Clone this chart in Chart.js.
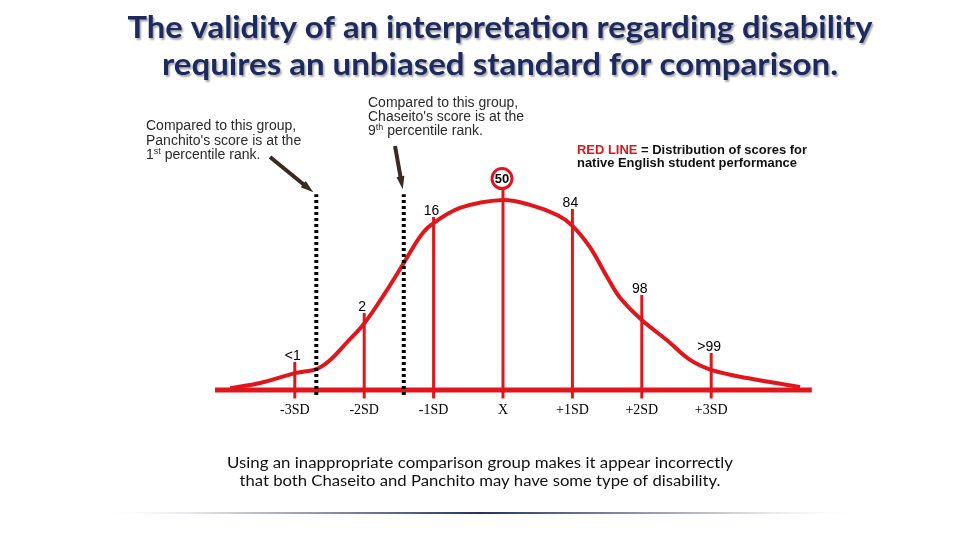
<!DOCTYPE html>
<html>
<head>
<meta charset="utf-8">
<script src="https://cdn.jsdelivr.net/npm/chart.js@4.4.1/dist/chart.umd.min.js"></script>
<style>
  html, body { margin: 0; background: #fff; }
  #wrap { width: 960px; height: 540px; position: relative; }
</style>
</head>
<body>
<div id="wrap"><canvas id="bellChart"></canvas></div>
<script>
// Distribution of native English scores: x in SD units, height with peak = 100
const curveSD = [-3.93, -3.5, -2.98, -2.69, -2.49, -2.25, -2.0, -1.7, -1.43, -1.2, -1.04, -0.62, 0,
                 0.39, 0.78, 0.99, 1.25, 1.5, 1.69, 2.0, 2.36, 2.69, 3.01, 3.52, 4.28];
const curveHeight = [1, 3.7, 9, 11, 15.8, 25, 35, 51, 66.8, 80.5, 86.8, 95.8, 100,
                     97.4, 92.1, 86.8, 75.3, 59.5, 48.4, 36.8, 26.3, 16, 10.5, 6.3, 1.6];

// SD markers and the percentile rank printed on each
const sdTicks = [-3, -2, -1, 0, 1, 2, 3];
const sdLabels = ['-3SD', '-2SD', '-1SD', 'X', '+1SD', '+2SD', '+3SD'];
const percentileLabels = ['<1', '2', '16', '50', '84', '98', '>99'];
const markerTops = [14.7, 40.5, 91, 106, 95.3, 50, 19.5];
const markerBottom = -4.5;

// Panchito and Chaseito scores (dotted lines)
const studentSD = [-2.69, -1.43];
const studentTop = 103;
const studentBottom = -2.6;

// horizontal base line
const baselineSD = [-4.15, 4.45];

const RED = '#e0161c';

function markerPoints() {
    const pts = [];
    sdTicks.forEach((sd, i) => {
        pts.push({ x: sd, y: markerBottom }, { x: sd, y: markerTops[i] }, { x: sd, y: null });
    });
    return pts;
}

function studentPoints() {
    const pts = [];
    studentSD.forEach(sd => {
        pts.push({ x: sd, y: studentBottom }, { x: sd, y: studentTop }, { x: sd, y: null });
    });
    return pts;
}

// draw text squeezed/stretched to a given width
function fitText(ctx, text, cx, y, width, font, color) {
    ctx.save();
    ctx.font = font;
    ctx.fillStyle = color;
    ctx.textAlign = 'center';
    ctx.textBaseline = 'alphabetic';
    const w = ctx.measureText(text).width;
    ctx.translate(cx, y);
    ctx.scale(width / w, 1);
    ctx.fillText(text, 0, 0);
    ctx.restore();
}

// text with a superscript part: parts = [[text, isSup], ...]
function supText(ctx, parts, x, y, size) {
    let cx = x;
    parts.forEach(([t, sup]) => {
        ctx.font = (sup ? Math.round(size * 0.62) : size) + 'px "Liberation Sans", Arial, sans-serif';
        ctx.fillText(t, cx, sup ? y - size * 0.38 : y);
        cx += ctx.measureText(t).width;
    });
}

function arrow(ctx, x1, y1, x2, y2) {
    const ang = Math.atan2(y2 - y1, x2 - x1);
    const head = 13;
    ctx.save();
    ctx.strokeStyle = '#3a2a22';
    ctx.fillStyle = '#3a2a22';
    ctx.lineWidth = 4;
    ctx.beginPath();
    ctx.moveTo(x1, y1);
    ctx.lineTo(x2 - Math.cos(ang) * head * 0.8, y2 - Math.sin(ang) * head * 0.8);
    ctx.stroke();
    ctx.beginPath();
    ctx.moveTo(x2, y2);
    ctx.lineTo(x2 - head * Math.cos(ang) + 4 * Math.sin(ang), y2 - head * Math.sin(ang) - 4 * Math.cos(ang));
    ctx.lineTo(x2 - head * Math.cos(ang) - 4 * Math.sin(ang), y2 - head * Math.sin(ang) + 4 * Math.cos(ang));
    ctx.closePath();
    ctx.fill();
    ctx.restore();
}

const decorations = {
    id: 'decorations',
    beforeDraw(chart) {
        const ctx = chart.ctx;
        ctx.save();
        ctx.fillStyle = '#fff';
        ctx.fillRect(0, 0, chart.width, chart.height);
        ctx.restore();
    },
    afterDraw(chart) {
        const ctx = chart.ctx;
        const xs = chart.scales.x, ys = chart.scales.y;

        // title with soft shadow
        ctx.save();
        ctx.shadowColor = 'rgba(0,0,0,0.35)';
        ctx.shadowOffsetX = 1.5;
        ctx.shadowOffsetY = 1.5;
        ctx.shadowBlur = 2;
        fitText(ctx, 'The validity of an interpretation regarding disability', 500, 38, 745, 'bold 30px Lato, sans-serif', '#1c2a5e');
        fitText(ctx, 'requires an unbiased standard for comparison.', 500, 75, 676, 'bold 30px Lato, sans-serif', '#1c2a5e');
        ctx.restore();

        // annotations
        ctx.save();
        ctx.fillStyle = '#2a2a2a';
        ctx.textAlign = 'left';
        supText(ctx, [['Compared to this group,', false]], 146, 130, 14);
        supText(ctx, [["Panchito's score is at the", false]], 146, 145, 14);
        supText(ctx, [['1', false], ['st', true], [' percentile rank.', false]], 146, 159, 14);
        supText(ctx, [['Compared to this group,', false]], 368, 107, 14);
        supText(ctx, [["Chaseito's score is at the", false]], 368, 121, 14);
        supText(ctx, [['9', false], ['th', true], [' percentile rank.', false]], 368, 135, 14);
        ctx.restore();

        // legend-like note
        ctx.save();
        ctx.font = 'bold 12px "Liberation Sans", Arial, sans-serif';
        ctx.textAlign = 'left';
        const p1 = 'RED LINE', p2 = ' = Distribution of scores for';
        const w1 = ctx.measureText(p1).width, w2 = ctx.measureText(p2).width;
        const k = 230 / (w1 + w2);
        ctx.translate(577, 154);
        ctx.scale(k, 1);
        ctx.fillStyle = RED;
        ctx.fillText(p1, 0, 0);
        ctx.fillStyle = '#111';
        ctx.fillText(p2, w1, 0);
        const p3 = 'native English student performance';
        const w3 = ctx.measureText(p3).width;
        ctx.setTransform(1, 0, 0, 1, 0, 0);
        ctx.translate(577, 167);
        ctx.scale(220 / w3, 1);
        ctx.fillText(p3, 0, 0);
        ctx.restore();

        // arrows pointing at the dotted lines
        const ax1 = xs.getPixelForValue(studentSD[0]);
        const ax2 = xs.getPixelForValue(studentSD[1]);
        const ay = ys.getPixelForValue(studentTop);
        arrow(ctx, 270, 157, ax1 - 3, ay - 2);
        arrow(ctx, 395, 146, ax2 - 1, ay - 5);

        // percentile labels above each SD marker
        ctx.save();
        ctx.textAlign = 'center';
        ctx.textBaseline = 'alphabetic';
        sdTicks.forEach((sd, i) => {
            const px = xs.getPixelForValue(sd);
            const top = ys.getPixelForValue(markerTops[i]);
            if (percentileLabels[i] === '50') {
                ctx.beginPath();
                ctx.arc(px - 1, top - 10, 10, 0, Math.PI * 2);
                ctx.fillStyle = '#fff';
                ctx.fill();
                ctx.lineWidth = 3;
                ctx.strokeStyle = RED;
                ctx.stroke();
                ctx.fillStyle = '#000';
                ctx.font = 'bold 13px "Liberation Sans", Arial, sans-serif';
                ctx.textBaseline = 'middle';
                ctx.fillText('50', px - 1, top - 9.5);
                ctx.textBaseline = 'alphabetic';
            } else {
                ctx.fillStyle = '#000';
                ctx.font = '14px "Liberation Sans", Arial, sans-serif';
                ctx.fillText(percentileLabels[i], px - 2, top - 2);
            }
        });
        // SD labels under the base line
        ctx.font = '14px "Liberation Serif", "Times New Roman", serif';
        ctx.fillStyle = '#000';
        sdTicks.forEach((sd, i) => {
            ctx.fillText(sdLabels[i], xs.getPixelForValue(sd), 414);
        });
        ctx.restore();

        // footer text
        fitText(ctx, 'Using an inappropriate comparison group makes it appear incorrectly', 480, 468, 506, '16px Lato, sans-serif', '#111');
        fitText(ctx, 'that both Chaseito and Panchito may have some type of disability.', 480, 486, 481, '16px Lato, sans-serif', '#111');

        // divider
        ctx.save();
        const g = ctx.createLinearGradient(95, 0, 865, 0);
        g.addColorStop(0, 'rgba(255,255,255,0)');
        g.addColorStop(0.2, 'rgba(190,194,205,1)');
        g.addColorStop(0.5, '#1f3560');
        g.addColorStop(0.8, 'rgba(190,194,205,1)');
        g.addColorStop(1, 'rgba(255,255,255,0)');
        ctx.fillStyle = g;
        ctx.fillRect(95, 512, 770, 2);
        ctx.restore();
    }
};

new Chart(document.getElementById('bellChart'), {
    type: 'line',
    data: {
        datasets: [
            {
                label: 'Students',
                data: studentPoints(),
                borderColor: '#000',
                borderWidth: 4,
                borderDash: [3, 3],
                pointRadius: 0,
                spanGaps: false,
                order: 0
            },
            {
                label: 'SD markers',
                data: markerPoints(),
                borderColor: RED,
                borderWidth: 3,
                pointRadius: 0,
                spanGaps: false,
                order: 1
            },
            {
                label: 'Distribution',
                data: curveSD.map((x, i) => ({ x: x, y: curveHeight[i] })),
                borderColor: RED,
                borderWidth: 4,
                pointRadius: 0,
                tension: 0.35,
                order: 2
            },
            {
                label: 'Base',
                data: baselineSD.map(x => ({ x: x, y: 0 })),
                borderColor: RED,
                borderWidth: 5,
                pointRadius: 0,
                order: 3
            }
        ]
    },
    options: {
        responsive: true,
        maintainAspectRatio: false,
        animation: false,
        layout: { padding: 0 },
        plugins: { legend: { display: false }, tooltip: { enabled: false } },
        scales: {
            x: { type: 'linear', display: false, min: -503 / 69.4, max: 457 / 69.4 },
            y: { type: 'linear', display: false, min: -150 / 1.9, max: 390 / 1.9 }
        }
    },
    plugins: [decorations]
});
</script>
</body>
</html>
